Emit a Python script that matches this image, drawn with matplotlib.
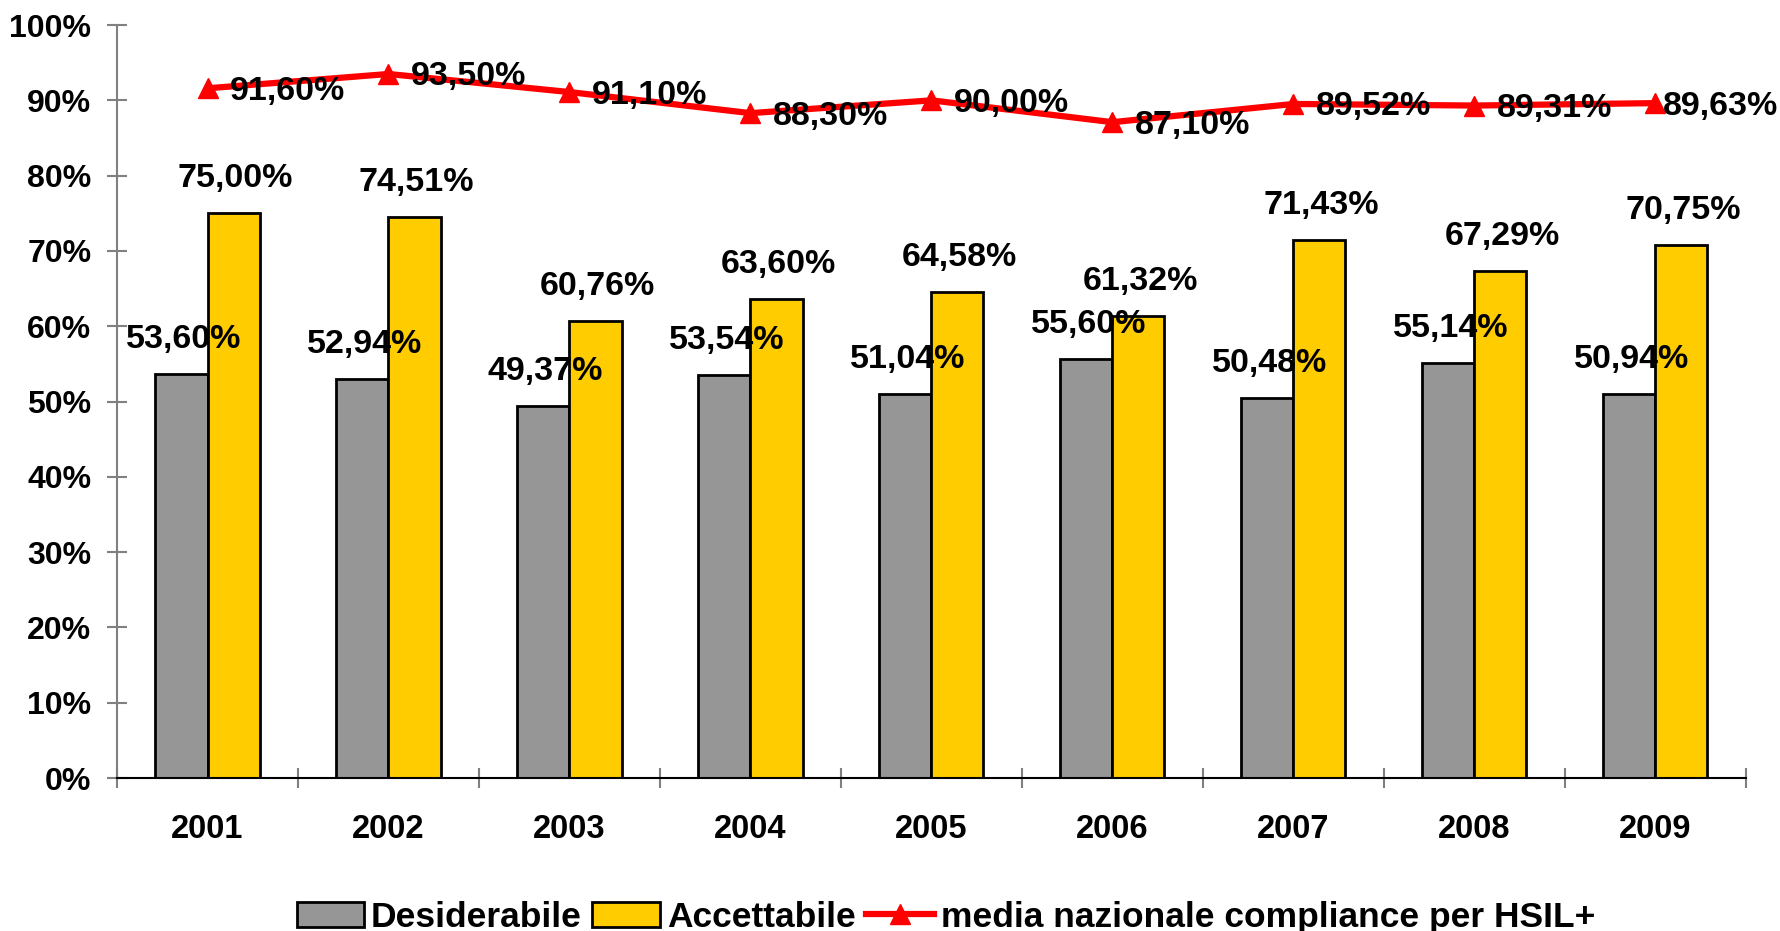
import matplotlib
matplotlib.use("Agg")
import matplotlib.pyplot as plt
import numpy as np
from matplotlib.ticker import FixedLocator

plt.rcParams['font.family'] = ['Liberation Sans', 'DejaVu Sans']
plt.rcParams['font.weight'] = 'bold'

years = ['2001', '2002', '2003', '2004', '2005', '2006', '2007', '2008', '2009']
desiderabile = [53.60, 52.94, 49.37, 53.54, 51.04, 55.60, 50.48, 55.14, 50.94]
accettabile = [75.00, 74.51, 60.76, 63.60, 64.58, 61.32, 71.43, 67.29, 70.75]
media = [91.60, 93.50, 91.10, 88.30, 90.00, 87.10, 89.52, 89.31, 89.63]

fig = plt.figure(figsize=(17.81, 9.31), dpi=100)
ax = fig.add_axes([0.0657, 0.1643, 0.9146, 0.8088])

x = np.arange(len(years))
w = 0.2875
grey = '#969696'
yellow = '#FFCC00'
red = '#FF0000'

b1 = ax.bar(x - w/2, desiderabile, w, color=grey, edgecolor='black', linewidth=2, label='Desiderabile', zorder=2)
b2 = ax.bar(x + w/2, accettabile, w, color=yellow, edgecolor='black', linewidth=2, label='Accettabile', zorder=2)
ln, = ax.plot(x, media, color=red, linewidth=4.5, marker='^', markersize=15, label='media nazionale compliance per HSIL+', zorder=3)

def fmt(v):
    return f"{v:.2f}".replace('.', ',') + '%'

LF = 24.5
for xi, v in zip(x, desiderabile):
    ax.annotate(fmt(v), (xi - w/2, v), xytext=(2, 19), textcoords='offset pixels',
                ha='center', va='bottom', fontsize=LF, fontweight='bold', zorder=4)
for xi, v in zip(x, accettabile):
    ax.annotate(fmt(v), (xi + w/2, v), xytext=(2, 19), textcoords='offset pixels',
                ha='center', va='bottom', fontsize=LF, fontweight='bold', zorder=4)
for i, (xi, v) in enumerate(zip(x, media)):
    dx = 7 if i == len(media) - 1 else 22
    ax.annotate(fmt(v), (xi, v), xytext=(dx, -3), textcoords='offset pixels',
                ha='left', va='center', fontsize=LF, fontweight='bold', zorder=4)

ax.set_xlim(-0.5, len(years) - 0.5)
ax.set_ylim(0, 100)
ax.set_yticks(np.arange(0, 101, 10))
ax.set_yticklabels([f"{int(t)}%" for t in np.arange(0, 101, 10)], fontsize=23, fontweight='bold')

ax.set_xticks(x)
ax.set_xticklabels(years, fontsize=23.5, fontweight='bold')
ax.xaxis.set_minor_locator(FixedLocator(np.arange(-0.5, len(years), 1.0)))
ax.tick_params(axis='x', which='major', length=0, pad=26)
ax.tick_params(axis='x', which='minor', length=15, direction='inout', color='#808080', width=1.5)
ax.tick_params(axis='y', which='major', length=15, direction='inout', color='#808080', width=1.5, pad=11)

for s in ['top', 'right']:
    ax.spines[s].set_visible(False)
ax.spines['left'].set_color('#808080')
ax.spines['left'].set_linewidth(1.5)
ax.spines['bottom'].set_color('black')
ax.spines['bottom'].set_linewidth(1.5)

leg = fig.legend(handles=[b1, b2, ln], loc='center', bbox_to_anchor=(0.531, 0.015),
                 ncol=3, frameon=False, handlelength=1.9, handletextpad=0.2,
                 columnspacing=0.3, prop={'weight': 'bold', 'size': 25.5})

fig.savefig('out.png', dpi=100)
